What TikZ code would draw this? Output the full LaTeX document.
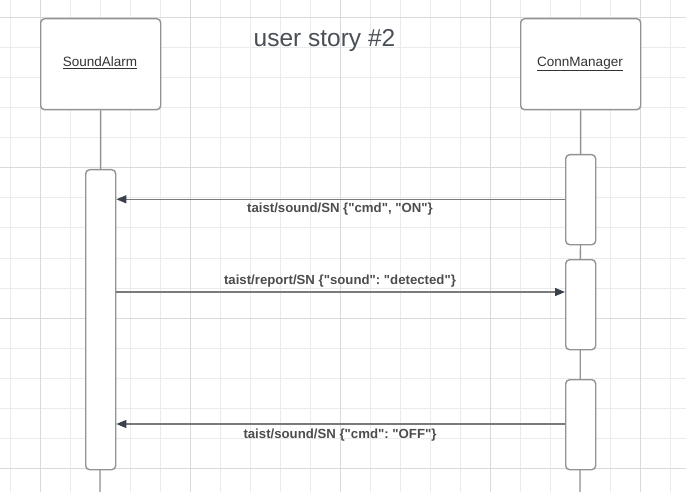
\documentclass[tikz,border=0pt]{standalone}
\usepackage{fontspec}
\setmainfont{Liberation Sans}
\usetikzlibrary{arrows.meta}
\frenchspacing
\newcommand{\qq}{\textquotedbl}
\definecolor{gridminor}{HTML}{EBEBEB}
\definecolor{gridmajor}{HTML}{DADADA}
\definecolor{boxline}{HTML}{939393}
\definecolor{msgline}{HTML}{7A7A7A}
\definecolor{tipcol}{HTML}{3A414A}
\definecolor{labelcol}{HTML}{4D4D4D}
\definecolor{titlecol}{HTML}{4A4F57}
\definecolor{namecol}{HTML}{333333}
\tikzset{
  actor/.style={draw=boxline, line width=1.4pt, rounded corners=4pt, fill=white,
    minimum width=120pt, minimum height=91pt, inner sep=0pt, anchor=north west},
  actbar/.style={draw=boxline, line width=1.4pt, rounded corners=4pt, fill=white,
    minimum width=30pt, inner sep=0pt, anchor=north west},
  lifeline/.style={draw=boxline, line width=1.4pt},
  msg/.style={draw=msgline, line width=1.3pt, -{Triangle[length=10pt,width=8pt,color=tipcol]}},
  msglabel/.style={font=\fontsize{13.2}{15}\selectfont\bfseries, text=labelcol, anchor=base, inner sep=0pt},
  actorname/.style={font=\fontsize{13.5}{15}\selectfont, text=namecol, anchor=base, inner sep=0pt},
}
\begin{document}
\begin{tikzpicture}[x=1pt,y=-1pt]
\useasboundingbox (0,0) rectangle (686,492);
\fill[white] (0,0) rectangle (686,492);
% grid
\foreach \gx in {10,40,...,670} {\draw[gridminor, line width=1pt] (\gx,0) -- (\gx,492);}
\foreach \gy in {18,48,...,480} {\draw[gridminor, line width=1pt] (0,\gy) -- (686,\gy);}
\foreach \gx in {40,190,340,490,640} {\draw[gridmajor, line width=1pt] (\gx,0) -- (\gx,492);}
\foreach \gy in {18,168,318,468} {\draw[gridmajor, line width=1pt] (0,\gy) -- (686,\gy);}
% title
\node[font=\fontsize{24.5}{28}\selectfont, text=titlecol, anchor=base, inner sep=0pt] (title) at (324.5,46.7) {user story \#2};
% lifelines
\coordinate (saEnd) at (100,492);
\coordinate (cmEnd) at (580,492);
\node[actor] (sa) at (40,18) {};
\node[actor] (cm) at (520,18) {};
\draw[lifeline] (sa.south) -- (saEnd);
\draw[lifeline] (cm.south) -- (cmEnd);
% activation bars
\node[actbar, minimum height=300pt] (saAct) at (85,169) {};
\node[actbar, minimum height=90pt] (cmAct1) at (565,154) {};
\node[actbar, minimum height=90pt] (cmAct2) at (565,259) {};
\node[actbar, minimum height=90pt] (cmAct3) at (565,379) {};
% actor names
\node[actorname] (saName) at (100,66.5) {\underline{SoundAlarm}};
\node[actorname] (cmName) at (580,66.5) {\underline{ConnManager}};
% message end points
\coordinate (m1a) at (cmAct1.west |- 0,199.3);
\coordinate (m1b) at (saAct.east |- 0,199.3);
\coordinate (m2a) at (saAct.east |- 0,292);
\coordinate (m2b) at (cmAct2.west |- 0,292);
\coordinate (m3a) at (cmAct3.west |- 0,424);
\coordinate (m3b) at (saAct.east |- 0,424);
\draw[msg] (m1a) -- (m1b);
\draw[msg] (m2a) -- (m2b);
\draw[msg] (m3a) -- (m3b);
\node[msglabel] (l1) at (340,213) {taist/sound/SN \{\qq cmd\qq, \qq ON\qq\}};
\node[msglabel] (l2) at (340,284) {taist/report/SN \{\qq sound\qq: \qq detected\qq\}};
\node[msglabel] (l3) at (340,438) {taist/sound/SN \{\qq cmd\qq: \qq OFF\qq\}};
\end{tikzpicture}
\end{document}
